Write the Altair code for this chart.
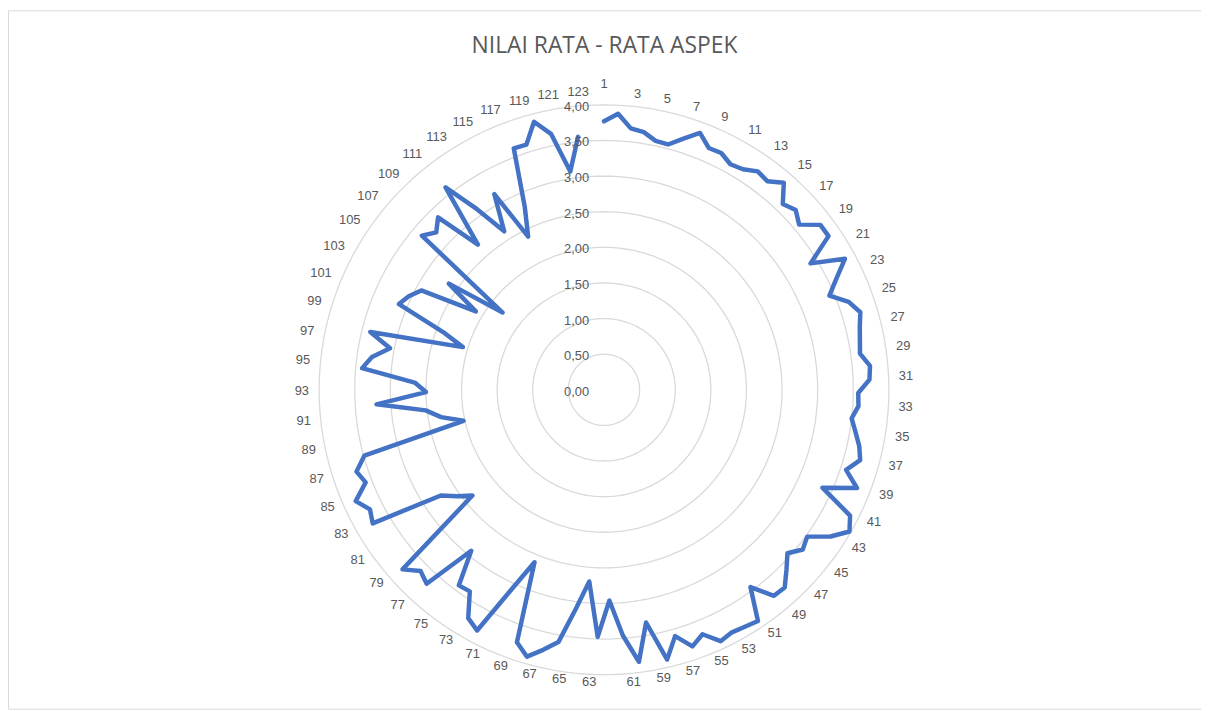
import altair as alt
import pandas as pd

# ---- data -------------------------------------------------------------
categories = [str(i) for i in range(1, 124)]
values = [
    3.77, 3.88, 3.69, 3.66, 3.57, 3.56, 3.70, 3.85, 3.70, 3.71,
    3.63, 3.66, 3.75, 3.72, 3.85, 3.62, 3.69, 3.59, 3.82, 3.82,
    3.40, 3.85, 3.62, 3.43, 3.65, 3.76, 3.70, 3.66, 3.63, 3.75,
    3.73, 3.57, 3.58, 3.50, 3.58, 3.67, 3.73, 3.58, 3.81, 3.36,
    3.88, 3.98, 3.79, 3.52, 3.58, 3.45, 3.60, 3.76, 3.75, 3.45,
    3.90, 3.87, 3.85, 3.89, 3.70, 3.81, 3.60, 3.89, 3.32, 3.85,
    3.46, 2.96, 3.47, 2.70, 3.10, 3.60, 3.75, 3.90, 3.75, 2.61,
    3.09, 3.82, 3.73, 3.40, 3.42, 2.93, 3.69, 3.62, 3.79, 2.37,
    2.55, 2.73, 3.75, 3.69, 3.82, 3.59, 3.66, 3.49, 2.02, 2.32,
    2.52, 3.20, 2.50, 2.66, 3.41, 3.29, 3.06, 3.38, 2.07, 2.40,
    3.12, 3.04, 2.92, 2.11, 2.64, 1.79, 3.35, 3.23, 3.36, 2.70,
    3.61, 3.10, 2.63, 3.15, 2.40, 2.80, 3.62, 3.61, 3.89, 3.67,
    3.10, 3.57, None,
]
ring_levels = [0.0, 0.5, 1.0, 1.5, 2.0, 2.5, 3.0, 3.5, 4.0]
ring_labels = ["0,00", "0,50", "1,00", "1,50", "2,00", "2,50", "3,00", "3,50", "4,00"]
title_text = "NILAI RATA - RATA ASPEK"

N = len(categories)
df = pd.DataFrame({"idx": list(range(N)), "cat": categories, "v": values})
rings = pd.DataFrame({"r": ring_levels, "lab": ring_labels})

# ---- geometry (pixel layout) -----------------------------------------
W, H = 1201, 703
PX = 71.7          # pixels per unit
CX, CY = 600, 382  # centre inside plot area
LAB_R = 297 / PX   # radius of category label anchors
xs = alt.Scale(domain=[-CX / PX, (W - CX) / PX], nice=False, zero=False)
ys = alt.Scale(domain=[-(H - CY) / PX, CY / PX], nice=False, zero=False)

TITLE_FONT = "Open Sans"
FONT = "Liberation Sans"
GREY = "#595959"

ang = f"datum.idx * 2 * PI / {N}"

grid = (
    alt.Chart(rings)
    .transform_filter("datum.r > 0")
    .transform_calculate(a="sequence(0, 362, 2)")
    .transform_flatten(["a"])
    .transform_calculate(
        gx="datum.r * sin(datum.a * PI / 180)",
        gy="datum.r * cos(datum.a * PI / 180)",
    )
    .mark_line(color="#d9d9d9", strokeWidth=1.3)
    .encode(
        x=alt.X("gx:Q", scale=xs, axis=None),
        y=alt.Y("gy:Q", scale=ys, axis=None),
        detail="r:N",
        order="a:Q",
    )
)

line = (
    alt.Chart(df)
    .transform_filter("isValid(datum.v)")
    .transform_calculate(
        px=f"datum.v * sin({ang})",
        py=f"datum.v * cos({ang})",
    )
    .mark_line(color="#4472C4", strokeWidth=4.5, strokeJoin="round", strokeCap="round")
    .encode(
        x=alt.X("px:Q", scale=xs, axis=None),
        y=alt.Y("py:Q", scale=ys, axis=None),
        order="idx:Q",
    )
)


def cat_layer(cond, **mark_kw):
    return (
        alt.Chart(df)
        .transform_filter("datum.idx % 2 == 0")
        .transform_filter(cond)
        .transform_calculate(
            lx=f"{LAB_R} * sin({ang})",
            ly=f"{LAB_R} * cos({ang})",
        )
        .mark_text(font=FONT, fontSize=13, color=GREY, **mark_kw)
        .encode(
            x=alt.X("lx:Q", scale=xs, axis=None),
            y=alt.Y("ly:Q", scale=ys, axis=None),
            text="cat:N",
        )
    )


half = N / 2
lab_top = cat_layer("datum.idx == 0", align="center", baseline="bottom", dy=-4)
lab_right = cat_layer(f"datum.idx > 0 && datum.idx < {half}", align="left", baseline="middle", dy=-2)
lab_left = cat_layer(f"datum.idx > {half}", align="right", baseline="middle", dy=-3)

val_labels = (
    alt.Chart(rings)
    .mark_text(font=FONT, fontSize=13, color=GREY, align="right", baseline="middle", dx=-15, dy=2)
    .encode(
        x=alt.X(datum=0, scale=xs, axis=None),
        y=alt.Y("r:Q", scale=ys, axis=None),
        text="lab:N",
    )
)

chart = (
    alt.layer(grid, line, val_labels, lab_top, lab_right, lab_left)
    .properties(
        width=W,
        height=H,
        padding=0,
        autosize=alt.AutoSizeParams(type="none"),
        title=alt.TitleParams(
            title_text,
            font=TITLE_FONT,
            fontSize=23,
            fontWeight="normal",
            color=GREY,
            anchor="middle",
            frame="group",
            offset=0,
            dy=48,
        ),
    )
    .configure_view(stroke="#d9d9d9", strokeWidth=1)
)

chart.save("out.html", embed_options={"renderer": "svg", "actions": False})
